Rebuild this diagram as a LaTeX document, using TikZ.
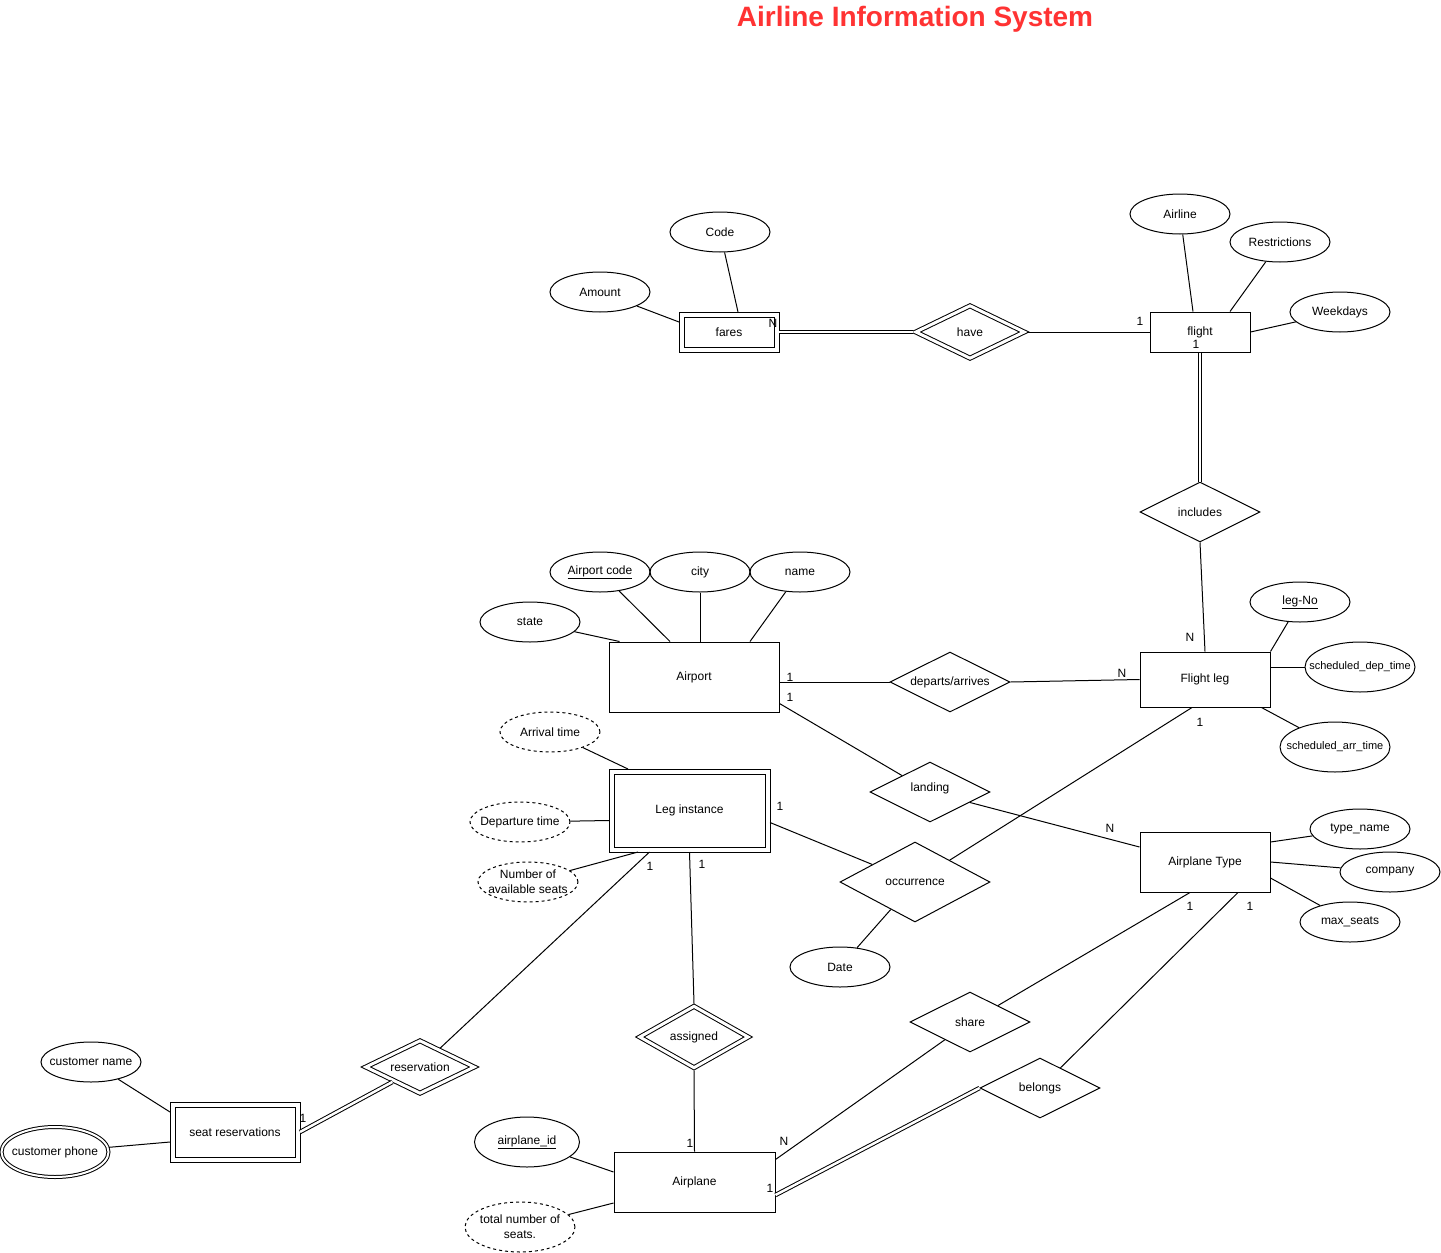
\documentclass[tikz,border=0pt]{standalone}
\usepackage{fontspec}
\setmainfont{Liberation Sans}
\usetikzlibrary{shapes.geometric}
\definecolor{titlered}{RGB}{255,51,51}

\begin{document}
\begin{tikzpicture}[x=1pt, y=-1pt, line width=1pt, font=\fontsize{12}{14}\selectfont,
    entity/.style={draw, rectangle, inner sep=0pt},
    weakentity/.style={entity, double, double distance=4pt, outer sep=2.5pt},
    attrib/.style={draw, ellipse, inner sep=-40pt, minimum width=100pt, minimum height=40pt, align=center},
    derived/.style={attrib, dash pattern=on 3pt off 3pt},
    multival/.style={attrib, double, double distance=2pt, outer sep=1.5pt},
    rel/.style={draw, diamond, inner sep=-60pt, minimum width=120pt, minimum height=60pt},
    weakrel/.style={rel, double, double distance=3pt, outer sep=2pt},
    card/.style={inner sep=0pt},
    dbl/.style={double, double distance=2.5pt}]

    \useasboundingbox (0, 0) rectangle (1441, 1253);

    \node[titlered, font=\fontsize{28}{32}\selectfont\bfseries] (title) at (915, 19) {Airline Information System};

    % entities
    \node[weakentity, minimum width=95pt, minimum height=35pt] (fares) at (729, 332) {fares};
    \node[entity, minimum width=100pt, minimum height=40pt] (flight) at (1200, 332) {flight};
    \node[entity, minimum width=130pt, minimum height=55pt] (legF) at (1205, 679.5) {Flight leg};
    \node[entity, minimum width=170pt, minimum height=70pt] (airport) at (694, 677) {Airport};
    \node[weakentity, minimum width=156pt, minimum height=78pt] (legI) at (689.5, 810.5) {Leg instance};
    \node[entity, minimum width=130pt, minimum height=60pt] (airtype) at (1205, 862) {Airplane Type};
    \node[entity, minimum width=161pt, minimum height=60pt] (airplane) at (694.5, 1182) {Airplane};
    \node[weakentity, minimum width=125pt, minimum height=55pt] (seatres) at (235, 1132) {seat reservations};

    % relationships
    \node[weakrel, minimum width=110pt, minimum height=54pt] (have) at (970, 332) {have};
    \node[rel] (includes) at (1200, 512) {includes};
    \node[rel] (departs) at (950, 682) {departs/arrives};
    \node[rel] (landing) at (930, 792) {\raisebox{9pt}{landing}};
    \node[rel, minimum width=150pt, minimum height=80pt] (occur) at (915, 882) {occurrence};
    \node[weakrel, minimum width=110pt, minimum height=63pt] (assigned) at (694, 1037) {assigned};
    \node[rel] (share) at (970, 1022) {share};
    \node[rel] (belongs) at (1040, 1088) {belongs};
    \node[weakrel, minimum width=110pt, minimum height=54pt] (reserv) at (420, 1067) {reservation};

    % attributes
    \node[attrib] (code) at (720, 232) {Code};
    \node[attrib] (amount) at (600, 292) {Amount};
    \node[attrib] (airline) at (1180, 214) {Airline};
    \node[attrib] (restrict) at (1280, 242) {Restrictions};
    \node[attrib] (weekdays) at (1340, 312) {Weekdays};
    \node[attrib] (legNo) at (1300, 602) {\underline{leg-No}};
    \node[attrib, minimum width=110pt, minimum height=50pt, font=\fontsize{11}{13}\selectfont] (schedDep) at (1360, 667) {scheduled\_dep\_time};
    \node[attrib, minimum width=110pt, minimum height=50pt, font=\fontsize{11}{13}\selectfont] (schedArr) at (1335, 747) {scheduled\_arr\_time};
    \node[attrib] (apCode) at (600, 572) {\underline{Airport code}};
    \node[attrib] (city) at (700, 572) {city};
    \node[attrib] (apName) at (800, 572) {name};
    \node[attrib] (state) at (530, 622) {state};
    \node[derived] (arrTime) at (550, 732) {Arrival time};
    \node[derived] (depTime) at (520, 822) {Departure time};
    \node[derived, font=\fontsize{12}{15}\selectfont] (freeSeats) at (528, 882) {Number of\\available seats};
    \node[attrib] (date) at (840, 967) {Date};
    \node[attrib] (typeName) at (1360, 829) {type\_name};
    \node[attrib] (company) at (1390, 872) {company};
    \node[attrib] (maxSeats) at (1350, 922) {max\_seats};
    \node[attrib, minimum width=105pt, minimum height=50pt] (planeId) at (527, 1142) {\underline{airplane\_id}};
    \node[derived, minimum width=110pt, minimum height=50pt, font=\fontsize{12}{15}\selectfont] (totSeats) at (520, 1227) {total number of\\seats.};
    \node[attrib] (custName) at (91, 1062) {customer name};
    \node[multival, minimum width=107pt, minimum height=50pt] (custPhone) at (55, 1152) {customer phone};

    % attribute lines
    \draw (code) -- ([xshift=9pt]fares.north);
    \draw (amount) -- ([yshift=10pt]fares.west);
    \draw (airline) -- ([xshift=-7pt]flight.north);
    \draw (restrict) -- ([xshift=30pt]flight.north);
    \draw (weekdays) -- (flight.east);
    \draw (legNo) -- (legF.north east);
    \draw (schedDep) -- (legF.east |- schedDep);
    \draw (schedArr) -- ([xshift=-9pt]legF.south east);
    \draw (apCode) -- ([xshift=-24pt]airport.north);
    \draw (city) -- (city |- airport.north);
    \draw (apName) -- ([xshift=56pt]airport.north);
    \draw (state) -- ([xshift=11pt]airport.north west);
    \draw (arrTime) -- ([xshift=19pt]legI.north west);
    \draw (depTime) -- ([yshift=-10pt]legI.west);
    \draw (freeSeats) -- ([xshift=29pt]legI.south west);
    \draw (date) -- (occur);
    \draw (typeName) -- ([yshift=20pt]airtype.east);
    \draw (company) -- (airtype.east);
    \draw (maxSeats) -- ([yshift=-16pt]airtype.east);
    \draw (planeId) -- ([yshift=10pt]airplane.west);
    \draw (totSeats) -- ([yshift=-21pt]airplane.west);
    \draw (custName) -- ([yshift=-10pt]seatres.north west);
    \draw (custPhone) -- ([yshift=-10pt]seatres.west);

    % relationship lines
    \draw[dbl] (fares.east) -- (have.west);
    \draw (have.east) -- (flight.west);
    \draw[dbl] (flight.south) -- (includes.north);
    \draw (includes.south) -- (legF.north);
    \draw (departs.west -| airport.east) -- (departs.west);
    \draw (departs.east) -- (legF.west);
    \draw ([yshift=9pt]airport.south east) -- (landing);
    \draw (landing) -- ([yshift=15pt]airtype.west);
    \draw ([xshift=-13pt]legF.south) -- (occur);
    \draw ([yshift=-12pt]legI.east) -- (occur);
    \draw ([xshift=-40pt]legI.south) -- (reserv);
    \draw (legI.south) -- (assigned.north);
    \draw (assigned.south) -- (airplane.north);
    \draw ([yshift=-8pt]airplane.north east) -- (share);
    \draw (share) -- ([xshift=-15pt]airtype.south);
    \draw[dbl] ([yshift=-13pt]airplane.east) -- (belongs.west);
    \draw (belongs) -- ([xshift=33pt]airtype.south);
    \draw[dbl] (seatres.east) -- (reserv);

    % cardinalities
    \node[card] (cFares) at (773, 323) {N};
    \node[card] (cFlightW) at (1140, 321) {1};
    \node[card] (cFlightS) at (1196, 344) {1};
    \node[card] (cLegTop) at (1190, 637) {N};
    \node[card] (cLegW) at (1122, 673) {N};
    \node[card] (cLegS) at (1200, 722) {1};
    \node[card] (cAirportA) at (790, 677) {1};
    \node[card] (cAirportB) at (790, 697) {1};
    \node[card] (cTypeW) at (1110, 828) {N};
    \node[card] (cLegIE) at (780, 806) {1};
    \node[card] (cLegIS1) at (650, 866) {1};
    \node[card] (cLegIS2) at (702, 864) {1};
    \node[card] (cPlaneN) at (690, 1143) {1};
    \node[card] (cPlaneShare) at (784, 1141) {N};
    \node[card] (cPlaneE) at (770, 1188) {1};
    \node[card] (cTypeS1) at (1190, 906) {1};
    \node[card] (cTypeS2) at (1250, 906) {1};
    \node[card] (cSeatRes) at (303, 1118) {1};

\end{tikzpicture}
\end{document}
